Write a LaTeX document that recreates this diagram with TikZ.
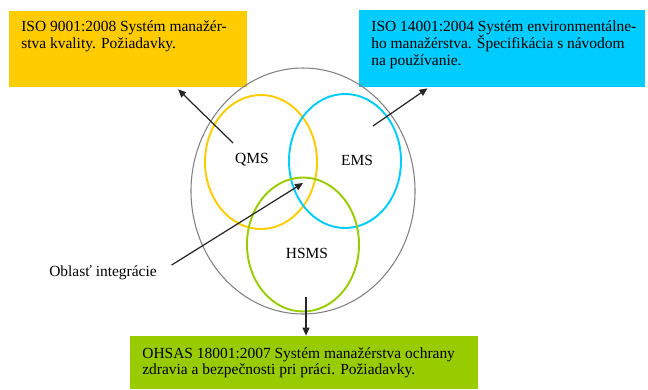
\documentclass[tikz,border=0pt]{standalone}
\usepackage{fontspec}
\setmainfont{Liberation Serif}
\usetikzlibrary{arrows.meta}
\usetikzlibrary{calc}
\definecolor{qmsYellow}{HTML}{FFCC00}
\definecolor{emsCyan}{HTML}{00CCFF}
\definecolor{hsmsGreen}{HTML}{99CC00}
\definecolor{ringGray}{HTML}{808080}
\tikzset{
  stdBox/.style = {draw = none, inner sep = 0pt},
  stdText/.style = {anchor = north west, inner sep = 0pt, align = left, font = \fontsize{8.8}{9.9}\selectfont},
  vennLabel/.style = {inner sep = 1pt, font = \fontsize{8.8}{10}\selectfont},
  stdArrow/.style = {-{Triangle[length = 0.16cm, width = 0.14cm]}, line width = 0.7pt, draw = black!85}
}

\begin{document}
\begin{tikzpicture}[x = 0.02cm, y = -0.02cm]
                        \useasboundingbox (0,0) rectangle (648,389);
                        % standard boxes
                        \node[stdBox, fill = qmsYellow, minimum width = 4.76cm, minimum height = 1.52cm] (qmsBox) at (128,49) {};
                        \node[stdBox, fill = emsCyan, minimum width = 5.72cm, minimum height = 1.54cm] (emsBox) at (502,48.5) {};
                        \node[stdBox, fill = hsmsGreen, minimum width = 6.96cm, minimum height = 1.06cm] (hsmsBox) at (304,362.5) {};
                        \node[stdText] (qmsText) at (21,20) {ISO 9001:2008 Systém manažér-\\stva kvality. Požiadavky.};
                        \node[stdText] (emsText) at (371,20) {ISO 14001:2004 Systém environmentálne-\\ho manažérstva. Špecifikácia s návodom\\na používanie.};
                        \node[stdText, font = \fontsize{8.8}{9.2}\selectfont] (hsmsText) at (142,347) {OHSAS 18001:2007 Systém manažérstva ochrany\\zdravia a bezpečnosti pri práci. Požiadavky.};
                        % venn diagram
                        \draw[ringGray, line width = 0.6pt] (303,191) ellipse [x radius = 112,y radius = 123];
                        \foreach \xCenter/\yCenter/\ringColor in {261/162/qmsYellow,345/161/emsCyan,303/244.5/hsmsGreen}{
                            \draw[\ringColor, line width = 1.1pt] (\xCenter,\yCenter) ellipse [x radius = 56,y radius = 67];
                          }
                        \node[vennLabel] (qms) at (252,160) {QMS};
                        \node[vennLabel] (ems) at (357,160) {EMS};
                        \node[vennLabel] (hsms) at (307,253) {HSMS};
                        \node[vennLabel] (oblast) at (103,273) {Oblasť integrácie};
                        \coordinate (qmsTail) at (233,143);
                        \coordinate (emsTail) at (373,126);
                        \coordinate (hsmsTail) at (306,297);
                        \coordinate (core) at (303,183);
                        % arrows
                        \draw[stdArrow] (qmsTail) -- ($(qmsBox.south west)!0.71!(qmsBox.south east) + (0,2)$);
                        \draw[stdArrow] (emsTail) -- ($(emsBox.south west)!0.24!(emsBox.south east) + (0,1)$);
                        \draw[stdArrow] (hsmsTail) -- (hsmsTail |- hsmsBox.north);
                        \draw[stdArrow, shorten <= 0.3cm] (oblast.east) -- (core);
                      \end{tikzpicture}
\end{document}
